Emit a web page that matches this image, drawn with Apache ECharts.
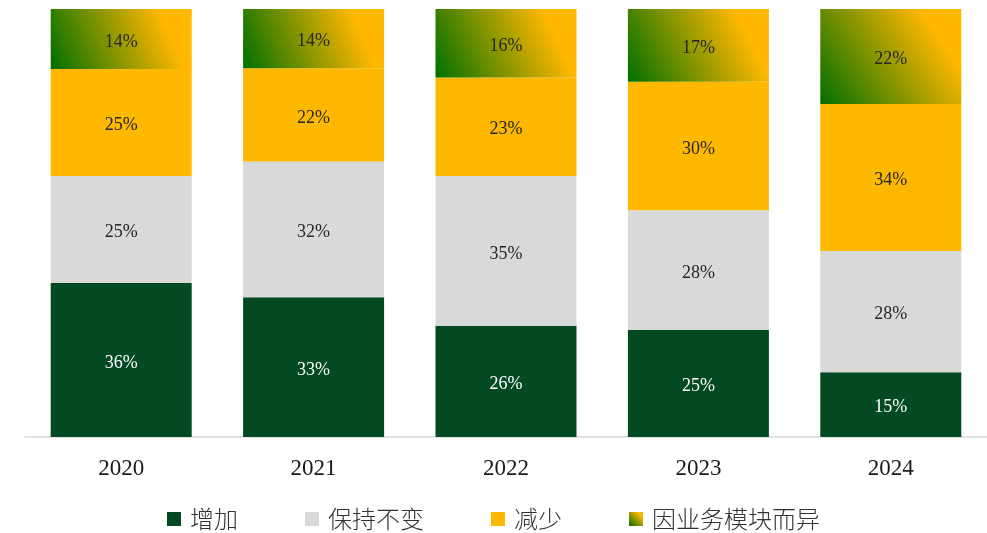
<!DOCTYPE html>
<html>
<head>
<meta charset="utf-8">
<script src="https://cdn.jsdelivr.net/npm/echarts@6/dist/echarts.min.js"></script>
<style>
  html, body { margin: 0; padding: 0; background: #fff; }
  #chart { width: 987px; height: 533px; }
</style>
</head>
<body>
<div id="chart"></div>
<script>
// 年份
const years = ['2020', '2021', '2022', '2023', '2024']
// 各选项占比（%）
const increase = [36, 33, 26, 25, 15]
const unchanged = [25, 32, 35, 28, 28]
const decrease = [25, 22, 23, 30, 34]
const depends = [14, 14, 16, 17, 22]

const names = ['增加', '保持不变', '减少', '因业务模块而异']
const groups = [increase, unchanged, decrease, depends]

// 每根柱子按 100% 堆叠
const totals = years.map((_, i) => groups.reduce((s, g) => s + g[i], 0))

const gradient = new echarts.graphic.LinearGradient(0, 1, 1, 0, [
  { offset: 0, color: '#006f00' },
  { offset: 0.8, color: '#ffb700' },
  { offset: 1, color: '#ffb800' }
])
const colors = ['#034a23', '#d9d9d9', '#ffb800', gradient]
const labelColors = ['#ffffff', '#262626', '#262626', '#262626']

const chart = echarts.init(document.getElementById('chart'))
chart.setOption({
  animation: false,
  grid: { left: 25, right: 0, top: 9, bottom: 96 },
  legend: {
    bottom: -3,
    left: 'center',
    icon: 'rect',
    itemWidth: 14,
    itemHeight: 14,
    itemGap: 67,
    textStyle: {
      fontFamily: 'Noto Sans CJK SC',
      fontWeight: 300,
      fontSize: 24,
      color: '#333',
      padding: [0, 0, 0, 4]
    },
    data: names
  },
  xAxis: {
    type: 'category',
    data: years,
    axisLine: { lineStyle: { color: '#d9d9d9', width: 1.5 } },
    axisTick: { show: false },
    axisLabel: { fontFamily: 'Liberation Serif', fontSize: 23, color: '#1a1a1a', margin: 20 }
  },
  yAxis: { type: 'value', min: 0, max: 100, show: false, splitLine: { show: false } },
  series: groups.map((g, k) => ({
    name: names[k],
    type: 'bar',
    stack: 'total',
    barWidth: 141,
    itemStyle: { color: colors[k] },
    label: {
      show: true,
      position: 'inside',
      offset: [0, 3],
      fontFamily: 'Liberation Serif',
      fontSize: 18,
      color: labelColors[k],
      formatter: p => g[p.dataIndex] + '%'
    },
    data: g.map((v, i) => v / totals[i] * 100)
  }))
})
</script>
</body>
</html>
